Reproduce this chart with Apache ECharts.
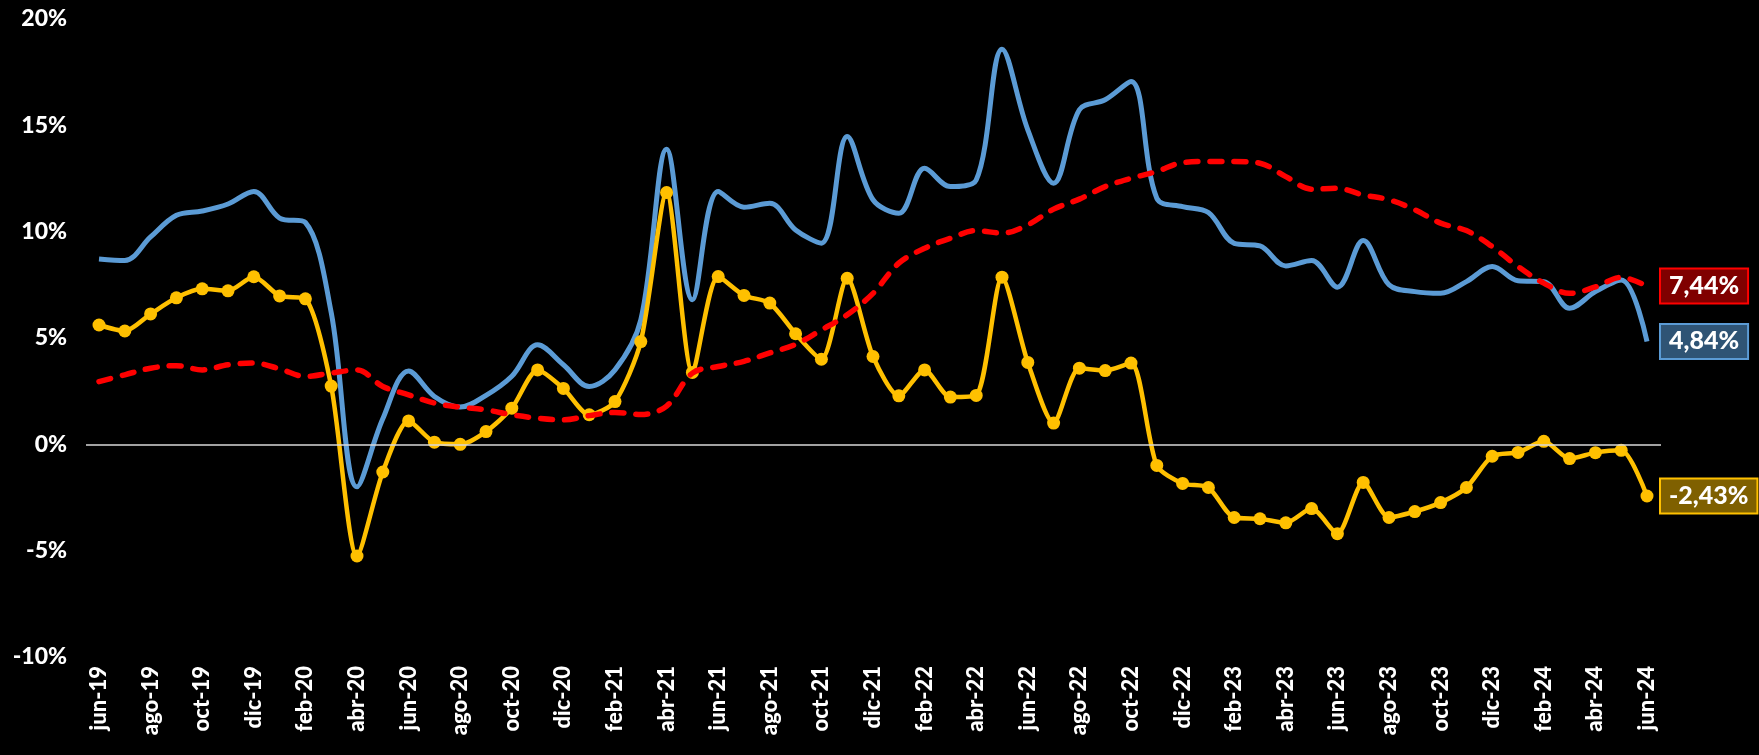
<!DOCTYPE html>
<html>
<head>
<meta charset="utf-8">
<script src="https://cdn.jsdelivr.net/npm/echarts@6/dist/echarts.min.js"></script>
<style>
html,body{margin:0;padding:0;background:#000;}
#chart{width:1759px;height:755px;}
</style>
</head>
<body>
<div id="chart"></div>
<script>
const months = ['jun-19','jul-19','ago-19','sep-19','oct-19','nov-19','dic-19','ene-20','feb-20','mar-20','abr-20','may-20',
'jun-20','jul-20','ago-20','sep-20','oct-20','nov-20','dic-20','ene-21','feb-21','mar-21','abr-21','may-21',
'jun-21','jul-21','ago-21','sep-21','oct-21','nov-21','dic-21','ene-22','feb-22','mar-22','abr-22','may-22',
'jun-22','jul-22','ago-22','sep-22','oct-22','nov-22','dic-22','ene-23','feb-23','mar-23','abr-23','may-23',
'jun-23','jul-23','ago-23','sep-23','oct-23','nov-23','dic-23','ene-24','feb-24','mar-24','abr-24','may-24','jun-24'];

const blueSeries = [8.72,8.64,9.75,10.77,10.97,11.3,11.89,10.64,10.43,6.2,-2.0,1.2,
3.45,2.25,1.75,2.3,3.2,4.68,3.74,2.72,3.5,5.85,13.88,6.8,
11.89,11.15,11.34,10.08,9.46,14.47,11.5,10.87,12.98,12.12,12.43,18.58,
14.79,12.28,15.73,16.2,17.06,11.57,11.18,10.9,9.45,9.33,8.39,8.64,
7.39,9.58,7.5,7.18,7.1,7.65,8.36,7.69,7.65,6.4,7.18,7.73,4.84];

const yellowSeries = [5.61,5.33,6.13,6.89,7.31,7.22,7.88,6.98,6.84,2.74,-5.25,-1.3,
1.1,0.1,0.0,0.6,1.7,3.5,2.63,1.39,2.01,4.83,11.84,3.38,
7.89,7.0,6.64,5.2,4.0,7.81,4.13,2.28,3.5,2.22,2.3,7.86,
3.85,1.0,3.58,3.47,3.82,-0.99,-1.84,-2.03,-3.44,-3.5,-3.69,-3.02,
-4.2,-1.79,-3.44,-3.16,-2.74,-2.03,-0.56,-0.38,0.14,-0.67,-0.39,-0.28,-2.43];

const redSeries = [2.95,3.27,3.58,3.7,3.5,3.74,3.82,3.55,3.19,3.35,3.5,2.72,
2.33,1.94,1.75,1.62,1.39,1.23,1.15,1.35,1.5,1.4,1.8,3.35,
3.66,3.9,4.3,4.7,5.38,6.09,7.1,8.52,9.22,9.69,10.05,9.93,
10.32,11.06,11.53,12.12,12.51,12.83,13.25,13.3,13.3,13.22,12.59,12.0,
12.04,11.73,11.5,11.03,10.4,10.05,9.3,8.36,7.58,7.1,7.4,7.85,7.44];

const yMin = -10, yMax = 20, yStep = 5;
const fmtPct = v => v.toFixed(2).replace('.', ',') + '%';
const FONT = 'Lato';

function endLabel(bg, border) {
  return {
    show: true,
    formatter: p => fmtPct(p.value),
    distance: 14,
    color: '#fff',
    fontFamily: FONT,
    fontWeight: 900,
    fontSize: 25,
    backgroundColor: bg,
    borderColor: border,
    borderWidth: 2,
    padding: [4, 8, 3, 8],
    lineHeight: 26
  };
}

const chart = echarts.init(document.getElementById('chart'));
chart.setOption({
  backgroundColor: '#000',
  animation: false,
  grid: [
    {left: 99, right: 112, top: 19, bottom: 98},
    {left: 86, right: 98, top: 19, bottom: 98}
  ],
  xAxis: [
    {
      type: 'category', gridIndex: 0, data: months, boundaryGap: false,
      axisLine: {show: false}, axisTick: {show: false},
      axisLabel: {
        interval: 1, rotate: 90, color: '#fff', fontFamily: FONT, fontWeight: 900,
        fontSize: 22, margin: 9
      }
    },
    {type: 'value', gridIndex: 1, min: 0, max: 1, show: false}
  ],
  yAxis: [
    {
      type: 'value', gridIndex: 0, min: yMin, max: yMax, interval: yStep,
      axisLine: {show: false}, axisTick: {show: false}, splitLine: {show: false},
      axisLabel: {
        formatter: v => v + '%', color: '#fff', fontFamily: FONT, fontWeight: 900,
        fontSize: 23, margin: 32
      }
    },
    {type: 'value', gridIndex: 1, min: yMin, max: yMax, show: false}
  ],
  series: [
    {
      type: 'line', xAxisIndex: 1, yAxisIndex: 1, data: [], silent: true,
      markLine: {
        symbol: 'none', silent: true, label: {show: false},
        lineStyle: {color: '#d9d9d9', width: 1.5, type: 'solid'},
        data: [{yAxis: 0}]
      }
    },
    {
      name: 'blue', type: 'line', data: blueSeries, smooth: 0.35, showSymbol: false,
      symbol: 'none',
      lineStyle: {color: '#5b9bd5', width: 5},
      itemStyle: {color: '#5b9bd5'},
      endLabel: endLabel('#2f5475', '#5b9bd5'),
      z: 2
    },
    {
      name: 'yellow', type: 'line', data: yellowSeries, smooth: 0.25,
      symbol: 'circle', symbolSize: 13, showSymbol: true,
      lineStyle: {color: '#ffc000', width: 4.5},
      itemStyle: {color: '#ffc000'},
      endLabel: endLabel('#7f6000', '#ffc000'),
      z: 3
    },
    {
      name: 'red', type: 'line', data: redSeries, smooth: 0.35, showSymbol: false,
      symbol: 'none',
      lineStyle: {color: '#ff0000', width: 5.5, type: [12, 12], cap: 'round'},
      itemStyle: {color: '#ff0000'},
      endLabel: endLabel('#800000', '#ff0000'),
      z: 4
    }
  ]
});
</script>
</body>
</html>
